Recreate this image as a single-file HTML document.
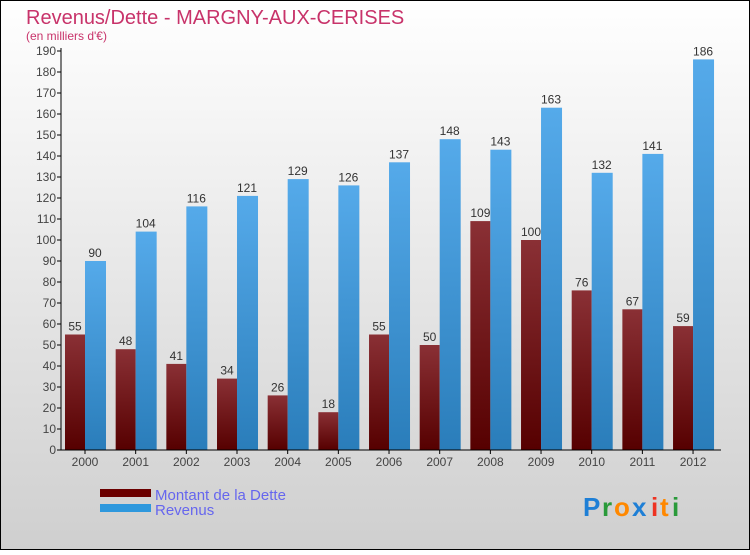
<!DOCTYPE html>
<html><head><meta charset="utf-8"><style>
body{margin:0;width:750px;height:550px;overflow:hidden;font-family:"Liberation Sans",sans-serif}
</style></head><body>
<svg width="750" height="550" xmlns="http://www.w3.org/2000/svg">
<defs>
<linearGradient id="bg" x1="0" y1="0" x2="0" y2="1"><stop offset="0" stop-color="#ffffff"/><stop offset="1" stop-color="#cfcfcf"/></linearGradient>
<linearGradient id="gd" x1="0" y1="0" x2="0" y2="1"><stop offset="0" stop-color="#8a3035"/><stop offset="1" stop-color="#560000"/></linearGradient>
<linearGradient id="gr" x1="0" y1="0" x2="0" y2="1"><stop offset="0" stop-color="#55aaea"/><stop offset="1" stop-color="#2a7dba"/></linearGradient>
</defs>
<rect x="0.5" y="0.5" width="749" height="549" fill="url(#bg)" stroke="#000"/>
<text x="26" y="24" font-size="20" fill="#c8336a">Revenus/Dette - MARGNY-AUX-CERISES</text>
<text x="26" y="40" font-size="12" fill="#c8336a">(en milliers d'€)</text>
<g id="plot"></g>
<rect x="100" y="489" width="51" height="8" fill="#6b0000"/>
<rect x="100" y="504" width="51" height="8" fill="#2e98dd"/>
<text x="155" y="500" font-size="15" fill="#6666ee">Montant de la Dette</text>
<text x="155" y="515" font-size="15" fill="#6666ee">Revenus</text>
<g font-size="26" font-weight="bold">
<text x="583" y="516" fill="#1e7fd6">P</text><text x="602" y="516" fill="#2a9a3a">r</text><text x="614" y="516" fill="#ff8800">o</text><text x="632" y="516" fill="#1e7fd6">x</text><text x="651" y="516" fill="#ee3322">i</text><text x="660" y="516" fill="#ff8800">t</text><text x="672" y="516" fill="#2a9a3a">i</text>
</g>
</svg>
<script>
const years=["2000","2001","2002","2003","2004","2005","2006","2007","2008","2009","2010","2011","2012"];
const debt=[55,48,41,34,26,18,55,50,109,100,76,67,59];
const revenue=[90,104,116,121,129,126,137,148,143,163,132,141,186];
const yTicks=[0,10,20,30,40,50,60,70,80,90,100,110,120,130,140,150,160,170,180,190];
const NS="http://www.w3.org/2000/svg";
const g=document.getElementById('plot');
const y0=450,yMax=190,yTop=51;
const yS=v=>y0-(y0-yTop)*v/yMax;
const xS=i=>85+i*50.67;
function el(t,a){const e=document.createElementNS(NS,t);for(const k in a)e.setAttribute(k,a[k]);g.appendChild(e);return e;}
yTicks.forEach(v=>{
 const l=el('line',{x1:57,x2:61,y1:yS(v),y2:yS(v),stroke:'#000'});
 
 
 const t=el('text',{x:56,y:yS(v)+4,'text-anchor':'end','font-size':12,fill:'#444'});
 t.textContent=v;
 
 
});
years.forEach((yr,i)=>{
 const cx=xS(i);
 const bd=el('rect',{x:cx-20,y:yS(debt[i]),width:20,height:y0-yS(debt[i]),fill:'url(#gd)'});
 
 
 const br=el('rect',{x:cx,y:yS(revenue[i]),width:21,height:y0-yS(revenue[i]),fill:'url(#gr)'});
 
 
 const ld=el('text',{x:cx-10,y:yS(debt[i])-4,'text-anchor':'middle','font-size':12,fill:'#333'});
 ld.textContent=debt[i];
 
 
 const lr=el('text',{x:cx+10,y:yS(revenue[i])-4,'text-anchor':'middle','font-size':12,fill:'#333'});
 lr.textContent=revenue[i];
 
 
 const tk=el('line',{x1:cx,x2:cx,y1:y0,y2:y0+4,stroke:'#000'});
 
 
 const xl=el('text',{x:cx,y:y0+16,'text-anchor':'middle','font-size':12,fill:'#444'});
 xl.textContent=yr;
 
 
});
const ya=el('line',{x1:61,x2:61,y1:yTop-3,y2:y0,stroke:'#000'});


const xa=el('line',{x1:57,x2:721,y1:y0,y2:y0,stroke:'#000'});


</script>
</body></html>
